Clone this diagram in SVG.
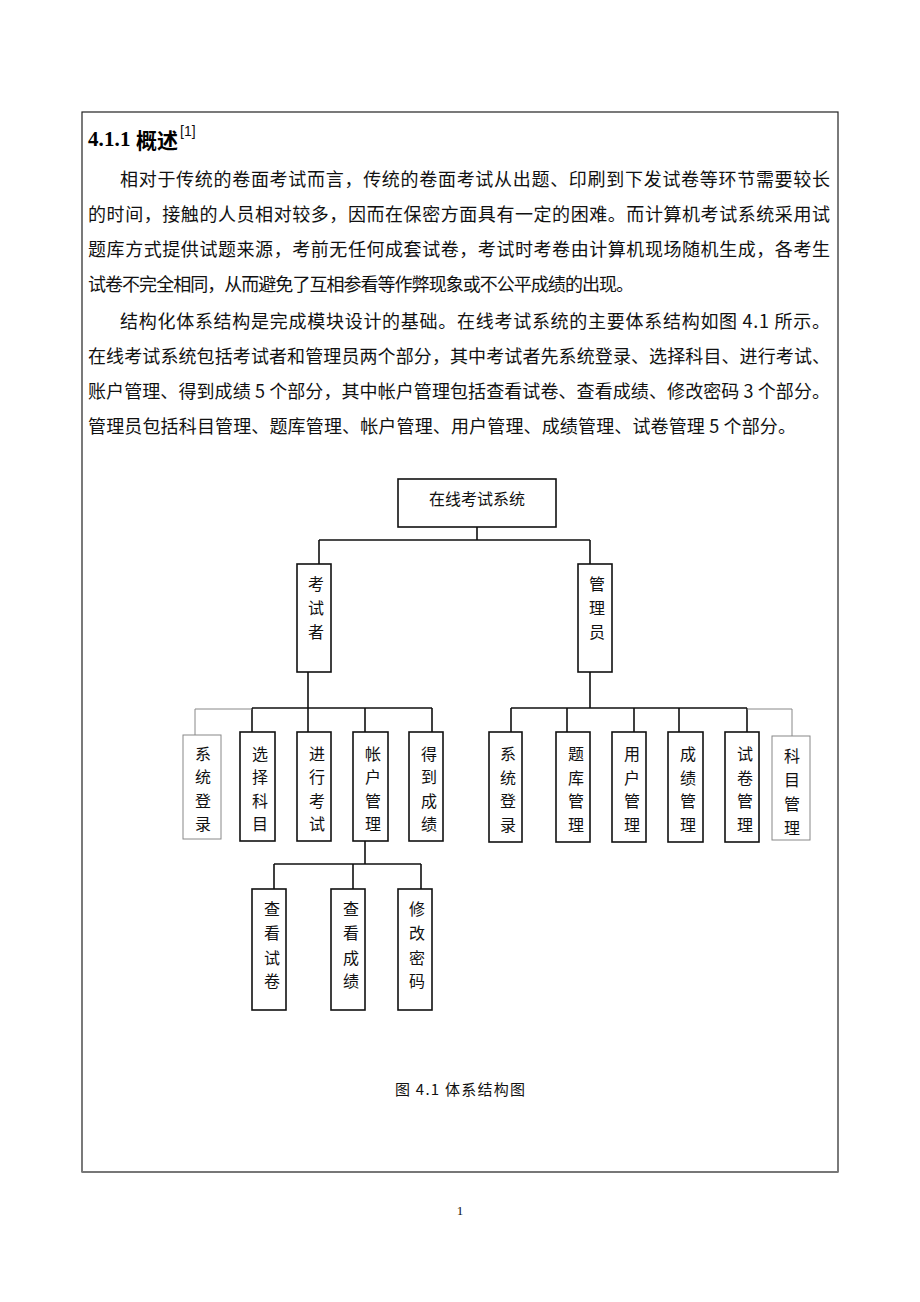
<svg xmlns="http://www.w3.org/2000/svg" width="920" height="1302" viewBox="0 0 920 1302">
<style>
.p{font-family:"Noto Sans CJK SC","Liberation Serif",serif;font-size:18px;fill:#111;dominant-baseline:central}
.n{font-family:"Noto Sans CJK SC","Liberation Serif",serif;font-size:16px;fill:#111;text-anchor:middle;dominant-baseline:central}
.box{fill:#fff;stroke:#111;stroke-width:1.6}
.gbox{fill:#fff;stroke:#888;stroke-width:1}
.ln{fill:none;stroke:#111;stroke-width:1.6}
.gln{fill:none;stroke:#888;stroke-width:1}
</style>
<rect x="0" y="0" width="920" height="1302" fill="#fff"/>
<rect x="82" y="112" width="756" height="1060" fill="none" stroke="#222" stroke-width="1.2"/>
<line x1="82" y1="1172" x2="838" y2="1172" stroke="#777" stroke-width="2.2"/>

<g id="text">
<text x="88" y="139" style="dominant-baseline:central" textLength="90" lengthAdjust="spacing"><tspan font-family="Liberation Serif,serif" font-weight="bold" font-size="21">4.1.1 </tspan><tspan font-family="Noto Sans CJK SC,sans-serif" font-weight="bold" font-size="21">概述</tspan></text>
<text x="180" y="131" font-family="Liberation Sans,sans-serif" font-size="14" fill="#111" style="dominant-baseline:central">[1]</text>
<text class="p" x="120" y="178" textLength="710" lengthAdjust="spacing">相对于传统的卷面考试而言，传统的卷面考试从出题、印刷到下发试卷等环节需要较长</text>
<text class="p" x="88" y="213" textLength="742" lengthAdjust="spacing">的时间，接触的人员相对较多，因而在保密方面具有一定的困难。而计算机考试系统采用试</text>
<text class="p" x="88" y="248" textLength="742" lengthAdjust="spacing">题库方式提供试题来源，考前无任何成套试卷，考试时考卷由计算机现场随机生成，各考生</text>
<text class="p" x="88" y="283" textLength="546" lengthAdjust="spacing">试卷不完全相同，从而避免了互相参看等作弊现象或不公平成绩的出现。</text>
<text class="p" x="120" y="320" textLength="710" lengthAdjust="spacing">结构化体系结构是完成模块设计的基础。在线考试系统的主要体系结构如图 4.1 所示。</text>
<text class="p" x="88" y="355" textLength="742" lengthAdjust="spacing">在线考试系统包括考试者和管理员两个部分，其中考试者先系统登录、选择科目、进行考试、</text>
<text class="p" x="88" y="390" textLength="742" lengthAdjust="spacing">账户管理、得到成绩 5 个部分，其中帐户管理包括查看试卷、查看成绩、修改密码 3 个部分。</text>
<text class="p" x="88" y="425" textLength="708" lengthAdjust="spacing">管理员包括科目管理、题库管理、帐户管理、用户管理、成绩管理、试卷管理 5 个部分。</text>
<text class="p" x="395" y="1088" style="font-size:15px" textLength="130" lengthAdjust="spacing">图 4.1 体系结构图</text>
<text x="460" y="1210" font-family="Liberation Serif,serif" font-size="13" fill="#111" text-anchor="middle" style="dominant-baseline:central">1</text>
</g>

<g id="connectors">
<path class="ln" d="M477 527 V540 M319 540 H590 M319 540 V564 M590 540 V564"/>
<path class="ln" d="M308 672 V708 M252 708 H432 M252 708 V732 M308 708 V732 M365 708 V732 M432 708 V732"/>
<path class="gln" d="M252 709 H195 V735"/>
<path class="ln" d="M590 672 V708 M511 708 H747 M511 708 V732 M567 708 V732 M634 708 V732 M679 708 V732 M747 708 V732"/>
<path class="gln" d="M747 709 H792 V736"/>
<path class="ln" d="M365 841 V864 M274 864 H421 M274 864 V889 M353 864 V889 M421 864 V889"/>
</g>

<g id="root"><rect class="box" x="398" y="479" width="158" height="48"/><text class="n" x="477" y="498">在线考试系统</text></g>

<g id="examinee"><rect class="box" x="297" y="564" width="34" height="108"/><text class="n" x="316" y="583">考</text><text class="n" x="316" y="607">试</text><text class="n" x="316" y="631">者</text></g>
<g id="admin"><rect class="box" x="578" y="564" width="34" height="108"/><text class="n" x="597" y="583">管</text><text class="n" x="597" y="607">理</text><text class="n" x="597" y="631">员</text></g>

<g id="e-login"><rect class="gbox" x="183" y="735" width="38" height="104"/><text class="n" x="203" y="753">系</text><text class="n" x="203" y="776">统</text><text class="n" x="203" y="800">登</text><text class="n" x="203" y="823">录</text></g>
<g id="e-subject"><rect class="box" x="240" y="732" width="35" height="109"/><text class="n" x="260" y="753">选</text><text class="n" x="260" y="776">择</text><text class="n" x="260" y="800">科</text><text class="n" x="260" y="823">目</text></g>
<g id="e-exam"><rect class="box" x="297" y="732" width="34" height="109"/><text class="n" x="317" y="753">进</text><text class="n" x="317" y="776">行</text><text class="n" x="317" y="800">考</text><text class="n" x="317" y="823">试</text></g>
<g id="e-account"><rect class="box" x="353" y="732" width="35" height="109"/><text class="n" x="373" y="753">帐</text><text class="n" x="373" y="776">户</text><text class="n" x="373" y="800">管</text><text class="n" x="373" y="823">理</text></g>
<g id="e-score"><rect class="box" x="409" y="732" width="34" height="109"/><text class="n" x="429" y="753">得</text><text class="n" x="429" y="776">到</text><text class="n" x="429" y="800">成</text><text class="n" x="429" y="823">绩</text></g>

<g id="a-login"><rect class="box" x="489" y="732" width="33" height="110"/><text class="n" x="508" y="753">系</text><text class="n" x="508" y="777">统</text><text class="n" x="508" y="800">登</text><text class="n" x="508" y="824">录</text></g>
<g id="a-bank"><rect class="box" x="556" y="732" width="34" height="110"/><text class="n" x="576" y="753">题</text><text class="n" x="576" y="777">库</text><text class="n" x="576" y="800">管</text><text class="n" x="576" y="824">理</text></g>
<g id="a-user"><rect class="box" x="612" y="732" width="34" height="110"/><text class="n" x="632" y="753">用</text><text class="n" x="632" y="777">户</text><text class="n" x="632" y="800">管</text><text class="n" x="632" y="824">理</text></g>
<g id="a-score"><rect class="box" x="668" y="732" width="35" height="110"/><text class="n" x="688" y="753">成</text><text class="n" x="688" y="777">绩</text><text class="n" x="688" y="800">管</text><text class="n" x="688" y="824">理</text></g>
<g id="a-paper"><rect class="box" x="725" y="732" width="34" height="110"/><text class="n" x="745" y="753">试</text><text class="n" x="745" y="777">卷</text><text class="n" x="745" y="800">管</text><text class="n" x="745" y="824">理</text></g>
<g id="a-subject"><rect class="gbox" x="772" y="736" width="38" height="104"/><text class="n" x="792" y="755">科</text><text class="n" x="792" y="779">目</text><text class="n" x="792" y="803">管</text><text class="n" x="792" y="827">理</text></g>

<g id="view-paper"><rect class="box" x="252" y="889" width="34" height="121"/><text class="n" x="272" y="908">查</text><text class="n" x="272" y="932">看</text><text class="n" x="272" y="957">试</text><text class="n" x="272" y="980">卷</text></g>
<g id="view-score"><rect class="box" x="331" y="889" width="34" height="121"/><text class="n" x="351" y="908">查</text><text class="n" x="351" y="932">看</text><text class="n" x="351" y="957">成</text><text class="n" x="351" y="980">绩</text></g>
<g id="change-pwd"><rect class="box" x="398" y="889" width="34" height="121"/><text class="n" x="417" y="908">修</text><text class="n" x="417" y="932">改</text><text class="n" x="417" y="957">密</text><text class="n" x="417" y="980">码</text></g>
</svg>
